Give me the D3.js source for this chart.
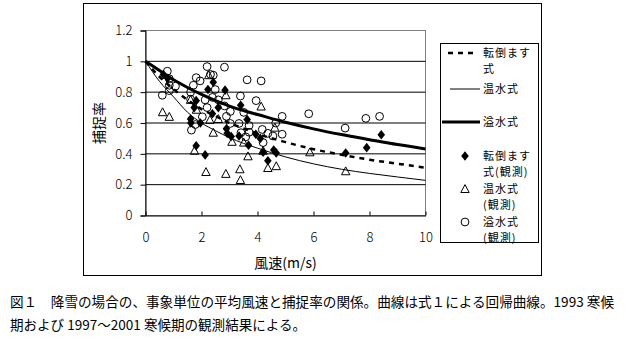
<!DOCTYPE html>
<html><head><meta charset="utf-8">
<script src="https://cdn.jsdelivr.net/npm/d3@7"></script>
<style>body{margin:0;background:#fff}svg{display:block}text{font-family:"Noto Sans CJK JP","Noto Sans",sans-serif;fill:#000}</style>
</head><body><svg id="c" width="626" height="350"></svg>
<script>
// ---- data ----
const windTicks = [0, 2, 4, 6, 8, 10];
const rateTicks = [0, 0.2, 0.4, 0.6, 0.8, 1.0, 1.2];
const curveWind = [0, 0.5, 1, 1.5, 2, 2.5, 3, 3.5, 4, 5, 6, 7, 8, 9, 10];
const tentouCurve = [1, 0.9, 0.82, 0.75, 0.69, 0.645, 0.6, 0.565, 0.53, 0.476, 0.43, 0.394, 0.362, 0.336, 0.31];
const onsuiCurve  = [1, 0.87, 0.77, 0.67, 0.6, 0.55, 0.505, 0.468, 0.437, 0.38, 0.335, 0.3, 0.273, 0.25, 0.228];
const issuiCurve  = [1, 0.94, 0.88, 0.83, 0.785, 0.745, 0.71, 0.68, 0.655, 0.605, 0.562, 0.525, 0.492, 0.46, 0.432];
const tentouObs = [[0.64,0.915],[0.79,0.89],[1.81,0.745],[1.74,0.70],[2.23,0.817],[2.42,0.864],[2.84,0.813],
  [3.4,0.715],[2.6,0.70],[2.39,0.66],[1.96,0.60],[1.61,0.626],[1.62,0.60],[2.89,0.563],[2.92,0.533],[3.06,0.512],
  [3.34,0.516],[3.63,0.622],[3.68,0.456],[3.94,0.527],[4.1,0.50],[4.2,0.41],[4.37,0.355],[4.58,0.425],
  [4.67,0.405],[1.81,0.452],[2.13,0.393],[7.15,0.405],[7.9,0.44],[8.42,0.524]];
const onsuiObs = [[0.61,0.67],[0.85,0.64],[1.61,0.75],[1.82,0.686],[1.75,0.42],[2.16,0.282],[2.42,0.537],
  [2.26,0.91],[2.87,0.78],[2.6,0.626],[2.87,0.27],[3.37,0.30],[3.39,0.23],[3.66,0.384],[4.13,0.707],[4.2,0.42],
  [4.37,0.308],[4.67,0.32],[4.62,0.57],[3.09,0.478],[3.51,0.473],[5.87,0.41],[7.15,0.287],[2.3,0.62]];
const issuiObs = [[0.78,0.936],[0.85,0.887],[0.85,0.845],[1.07,0.839],[0.85,0.81],[0.6,0.78],[1.61,0.80],
  [1.71,0.845],[1.81,0.894],[1.95,0.873],[2.2,0.966],[2.32,0.915],[2.42,0.91],[2.82,0.962],[1.61,0.754],
  [2.13,0.75],[2.2,0.70],[2.39,0.766],[2.6,0.75],[2.49,0.817],[2.82,0.711],[3.03,0.675],[2.89,0.643],
  [1.64,0.554],[1.78,0.59],[2.03,0.64],[3.03,0.597],[3.39,0.775],[3.51,0.669],[3.34,0.597],[3.7,0.584],
  [3.7,0.54],[3.41,0.537],[3.63,0.88],[4.13,0.873],[3.95,0.745],[4.17,0.558],[4.37,0.533],[4.55,0.516],
  [4.2,0.473],[4.88,0.643],[4.88,0.527],[4.65,0.60],[5.83,0.66],[7.13,0.567],[7.87,0.63],[8.36,0.643],[3.58,0.51]];
const legendItems = [
  {kind:"dash", lines:["転倒ます","式"]},
  {kind:"thin", lines:["温水式"]},
  {kind:"thick", lines:["溢水式"]},
  {kind:"diamond", lines:["転倒ます","式(観測)"]},
  {kind:"triangle", lines:["温水式","(観測)"]},
  {kind:"circle", lines:["溢水式","(観測)"]}
];
const xTitle = "風速(m/s)";
const yTitle = "捕捉率";
const caption = ["図１　降雪の場合の、事象単位の平均風速と捕捉率の関係。曲線は式１による回帰曲線。1993 寒候",
                 "期および 1997～2001 寒候期の観測結果による。"];

// ---- drawing ----
const svg = d3.select("#c");
const x = d3.scaleLinear().domain([0, 10]).range([145.5, 425.5]);
const y = d3.scaleLinear().domain([0, 1.2]).range([215.5, 30.5]);

// outer frame
svg.append("rect").attr("x", 83.5).attr("y", 3.5).attr("width", 458).attr("height", 272)
  .attr("fill", "none").attr("stroke", "#000");

// plot area border
svg.append("rect").attr("x", x(0)).attr("y", y(1.2)).attr("width", x(10) - x(0)).attr("height", y(0) - y(1.2))
  .attr("fill", "none").attr("stroke", "#808080");

// gridlines
svg.append("g").selectAll("line").data(rateTicks.filter(d => d > 0 && d < 1.2)).join("line")
  .attr("x1", x(0)).attr("x2", x(10)).attr("y1", d => y(d)).attr("y2", d => y(d)).attr("stroke", "#000");

// axes
const fmt = d => d === 0 ? "0" : d === 1 ? "1" : d3.format(".1f")(d);
const ya = svg.append("g").attr("transform", `translate(${x(0)},0)`)
  .call(d3.axisLeft(y).tickValues(rateTicks).tickFormat(fmt).tickSizeOuter(0).tickSize(5).tickPadding(8));
const xa = svg.append("g").attr("transform", `translate(0,${y(0)})`)
  .call(d3.axisBottom(x).tickValues(windTicks).tickFormat(d3.format("d")).tickSizeOuter(0).tickSizeInner(-4).tickPadding(17));
[ya, xa].forEach(g => {
  g.select(".domain").attr("stroke", "#000");
  g.selectAll(".tick line").attr("stroke", "#000");
  g.selectAll("text").style("font-size", "13px").style("font-weight", "300").attr("fill", "#000");
});

// curves
const line = d3.line().x((d, i) => x(curveWind[i])).y(d => y(d)).curve(d3.curveMonotoneX);
const plot = svg.append("g");
plot.append("path").attr("d", line(onsuiCurve)).attr("fill", "none").attr("stroke", "#000").attr("stroke-width", 1);
plot.append("path").attr("d", line(issuiCurve)).attr("fill", "none").attr("stroke", "#000").attr("stroke-width", 3);
plot.append("path").attr("d", line(tentouCurve)).attr("fill", "none").attr("stroke", "#000").attr("stroke-width", 2.5)
  .attr("stroke-dasharray", "5,5");

// markers
const diamondPath = "M0,-4.8L3.8,0L0,4.8L-3.8,0Z";
const trianglePath = "M0,-4.4L4.2,3.5L-4.2,3.5Z";
function marker(g, kind) {
  if (kind === "diamond") g.append("path").attr("d", diamondPath).attr("fill", "#000");
  else if (kind === "triangle") g.append("path").attr("d", trianglePath).attr("fill", "none").attr("stroke", "#000");
  else g.append("circle").attr("r", 3.9).attr("fill", "none").attr("stroke", "#000");
}
[[issuiObs, "circle"], [onsuiObs, "triangle"], [tentouObs, "diamond"]].forEach(([data, kind]) => {
  plot.append("g").selectAll("g").data(data).join("g")
    .attr("transform", d => `translate(${x(d[0])},${y(d[1])})`)
    .each(function () { marker(d3.select(this), kind); });
});

// axis titles
svg.append("text").attr("x", (x(0) + x(10)) / 2).attr("y", 268).attr("text-anchor", "middle")
  .style("font-size", "14px").text(xTitle);
svg.append("text").attr("transform", `translate(104,${y(0.6)}) rotate(-90)`).attr("text-anchor", "middle")
  .style("font-size", "14px").text(yTitle);

// legend
svg.append("rect").attr("x", 440.5).attr("y", 43.5).attr("width", 98).attr("height", 199)
  .attr("fill", "none").attr("stroke", "#000");
const legY = [53, 89, 122, 156, 189, 222];
legendItems.forEach((it, i) => {
  const g = svg.append("g").attr("transform", `translate(0,${legY[i]})`);
  if (it.kind === "dash") g.append("line").attr("x1", 448).attr("x2", 476).attr("stroke", "#000").attr("stroke-width", 2.5).attr("stroke-dasharray", "5,5");
  else if (it.kind === "thin") g.append("line").attr("x1", 450).attr("x2", 480).attr("stroke", "#000").attr("stroke-width", 1);
  else if (it.kind === "thick") g.append("line").attr("x1", 442).attr("x2", 480).attr("stroke", "#000").attr("stroke-width", 3);
  else marker(g.append("g").attr("transform", "translate(465,0)"), it.kind);
  it.lines.forEach((t, j) => {
    g.append("text").attr("x", 483).attr("y", j * 16).attr("dy", "0.35em")
      .style("font-size", "11px").style("letter-spacing", "1px").text(t);
  });
});

// caption
caption.forEach((t, i) => {
  const tx = svg.append("text").attr("x", 10).attr("y", 307 + i * 23).style("font-size", "13.5px").text(t);
  tx.attr("textLength", i === 0 ? 604 : 296).attr("lengthAdjust", "spacingAndGlyphs");
});
</script></body></html>
